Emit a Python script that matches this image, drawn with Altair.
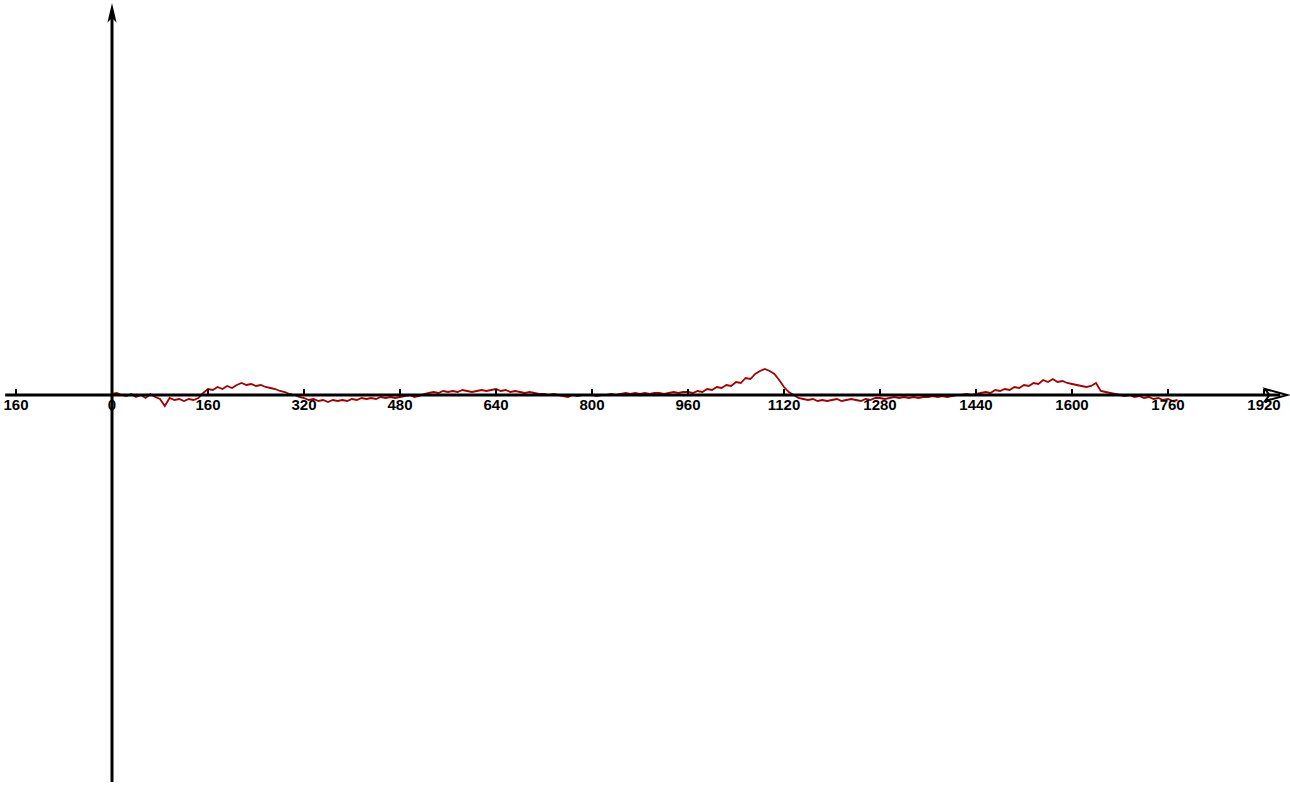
import altair as alt
import pandas as pd

sample_start = 0
sample_step = 8
signal = [
    # 0 .. 152
    1, 2, 0, -1, 1, -2, 0, -3, 1, -2, -4, -11, -3, -5, -4, -6, -4, -5, -3, 2,
    # 160 .. 312
    6, 5, 8, 6, 9, 7, 10, 12, 10, 11, 9, 10, 8, 7, 6, 4, 3, 1, 0, -2,
    # 320 .. 472
    -3, -5, -4, -6, -5, -7, -5, -6, -5, -6, -4, -5, -3, -4, -3, -4, -2, -3, -2, -3,
    # 480 .. 632
    -2, -1, 0, -2, -1, 1, 2, 3, 2, 4, 3, 4, 3, 5, 4, 3, 4, 5, 4, 5,
    # 640 .. 792
    6, 4, 5, 3, 4, 3, 2, 3, 2, 1, 1, 0, 1, 0, -1, -2, 0, -1, 0, 0,
    # 800 .. 952
    0, -1, 0, 0, 1, 0, 1, 2, 1, 2, 1, 2, 1, 2, 2, 1, 2, 3, 2, 3,
    # 960 .. 1112
    3, 2, 4, 3, 6, 5, 8, 7, 10, 9, 13, 12, 17, 16, 21, 24, 26, 24, 21, 15,
    # 1120 .. 1272
    8, 3, 0, -3, -4, -5, -4, -6, -5, -6, -5, -4, -6, -5, -4, -5, -6, -4, -5, -3,
    # 1280 .. 1432
    -3, -4, -3, -2, -3, -2, -3, -2, -3, -2, -2, -1, -2, -1, -2, -1, 0, 0, 1, 0,
    # 1440 .. 1592
    1, 2, 3, 2, 5, 4, 6, 5, 8, 7, 10, 9, 12, 11, 15, 13, 16, 13, 14, 12,
    # 1600 .. 1752
    11, 10, 9, 8, 9, 12, 4, 3, 2, 1, 0, -1, 0, -2, -1, -3, -2, -4, -3, -5,
    # 1760 .. 1776
    -4, -6, -5,
]

tick_values = [-160, 0, 160, 320, 480, 640, 800, 960, 1120, 1280, 1440, 1600, 1760, 1920]
tick_labels = ["160", "0", "160", "320", "480", "640", "800", "960", "1120",
               "1280", "1440", "1600", "1760", "1920"]

# axis extents (data units)
x_axis_from, x_axis_to = -178, 1947
y_axis_from, y_axis_to = -387, 384

sig_df = pd.DataFrame({
    "x": [sample_start + i * sample_step for i in range(len(signal))],
    "y": signal,
})
tick_df = pd.DataFrame({"x": tick_values, "label": tick_labels})

xscale = alt.Scale(domain=[-186.67, 1963.33], nice=False, zero=False)
yscale = alt.Scale(domain=[-395, 395], nice=False, zero=False)

line = alt.Chart(sig_df).mark_line(color="#a50000", strokeWidth=1.8).encode(
    x=alt.X("x:Q", scale=xscale, axis=None),
    y=alt.Y("y:Q", scale=yscale, axis=None),
)

x_axis = alt.Chart(pd.DataFrame({"a": [x_axis_from], "b": [x_axis_to], "y": [0]})).mark_rule(
    color="black", strokeWidth=3
).encode(
    x=alt.X("a:Q", scale=xscale, axis=None),
    x2="b:Q",
    y=alt.Y("y:Q", scale=yscale, axis=None),
)

y_axis = alt.Chart(pd.DataFrame({"x": [0], "a": [y_axis_from], "b": [y_axis_to]})).mark_rule(
    color="black", strokeWidth=3
).encode(
    x=alt.X("x:Q", scale=xscale, axis=None),
    y=alt.Y("a:Q", scale=yscale, axis=None),
    y2="b:Q",
)

ticks = alt.Chart(tick_df).mark_rule(color="black", strokeWidth=2).encode(
    x=alt.X("x:Q", scale=xscale, axis=None),
    y=alt.value(389),
    y2=alt.value(395),
)

labels = alt.Chart(tick_df).mark_text(
    font="Liberation Sans", fontSize=15, fontWeight="bold", color="black",
    baseline="top", align="center",
).encode(
    x=alt.X("x:Q", scale=xscale, axis=None),
    y=alt.value(398),
    text="label:N",
)

up_arrow = alt.Chart(pd.DataFrame({"x": [0], "y": [381]})).mark_point(
    shape="M0,-1 L0.42,0.8 L0.1,0.45 L-0.1,0.45 L-0.42,0.8 Z",
    size=484, filled=True, color="black", opacity=1,
).encode(
    x=alt.X("x:Q", scale=xscale, axis=None),
    y=alt.Y("y:Q", scale=yscale, axis=None),
)

right_arrow = alt.Chart(pd.DataFrame({"x": [1940], "y": [0]})).mark_point(
    shape="M-1,-0.55 L1,0 L-1,0.55 L-0.6,0 Z",
    size=484, filled=False, color="black", strokeWidth=2, opacity=1,
).encode(
    x=alt.X("x:Q", scale=xscale, axis=None),
    y=alt.Y("y:Q", scale=yscale, axis=None),
)

chart = alt.layer(line, x_axis, y_axis, ticks, labels, up_arrow, right_arrow).properties(
    width=1290, height=790, autosize=alt.AutoSizeParams(type="none"), padding=0,
    background="white",
).configure_view(stroke=None)

chart.save("out.html", embed_options={"renderer": "svg", "actions": False})
